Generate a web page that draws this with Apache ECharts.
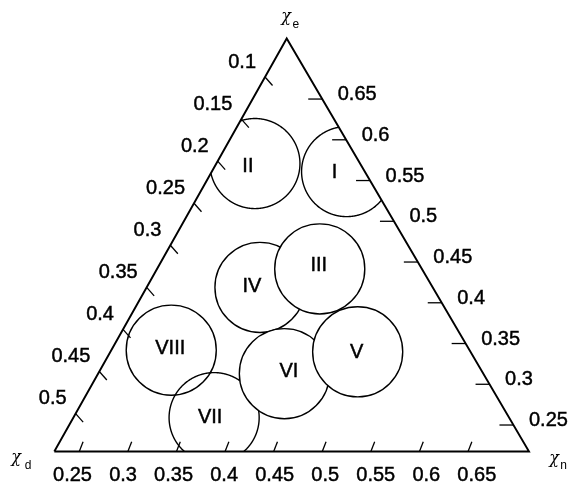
<!DOCTYPE html>
<html><head><meta charset="utf-8">
<script src="https://cdn.jsdelivr.net/npm/echarts@6/dist/echarts.min.js"></script>
<style>html,body{margin:0;padding:0;background:#fff}#c{width:569px;height:484px}</style>
</head><body><div id="c"></div>
<script>
// ---------------- data ----------------
// value of each ternary variable at the two ends of its axis (triangle vertices)
const eRange = [0.2175, 0.7243];   // χe : bottom edge -> top vertex
const dRange = [0.0542, 0.5451];   // χd : top vertex -> bottom-left vertex
const nRange = [0.2243, 0.7127];   // χn : bottom-left -> bottom-right vertex

const dTicks = [0.1, 0.15, 0.2, 0.25, 0.3, 0.35, 0.4, 0.45, 0.5];
const dTickLabels = ['0.1', '0.15', '0.2', '0.25', '0.3', '0.35', '0.4', '0.45', '0.5'];
const eTicks = [0.25, 0.3, 0.35, 0.4, 0.45, 0.5, 0.55, 0.6, 0.65];
const eTickLabels = ['0.25', '0.3', '0.35', '0.4', '0.45', '0.5', '0.55', '0.6', '0.65'];
const nTicks = [0.25, 0.3, 0.35, 0.4, 0.45, 0.5, 0.55, 0.6, 0.65];
const nTickLabels = ['0.25', '0.3', '0.35', '0.4', '0.45', '0.5', '0.55', '0.6', '0.65'];

const regionNames = ['I', 'II', 'III', 'IV', 'V', 'VI', 'VII', 'VIII'];
const regionE = [0.561, 0.571, 0.442, 0.419, 0.340, 0.313, 0.259, 0.342];
const regionD = [0.073, 0.163, 0.160, 0.233, 0.171, 0.260, 0.359, 0.363];
const regionN = [0.363, 0.264, 0.392, 0.341, 0.479, 0.416, 0.369, 0.286];
const regionRadius = 0.047;

// ---------------- styles / layout ----------------
const FONT = '"Liberation Sans", Arial, Helvetica, sans-serif';
const CHI_FONT = '"DejaVu Serif", "Liberation Serif", serif';
const TEXT_THICKEN = { stroke: '#000', lineWidth: 0.45 };
const APEX = [0.4896, 0.8700];            // top vertex in grid units (side = 1)
const regionLayer = [1, 1, 3, 2, 3, 2, 1, 1];
const regionFilled = [true, true, true, true, true, true, false, false];
const labelNudge = [[-12, 1], [-7, 3], [-1, -3], [-8, -1], [-1, 1], [4.5, -2], [-4, 0], [-1, -2]];

function toXY(e, d, n) {
  let fe = (e - eRange[0]) / (eRange[1] - eRange[0]);
  let fd = (d - dRange[0]) / (dRange[1] - dRange[0]);
  let fn = (n - nRange[0]) / (nRange[1] - nRange[0]);
  const s = fe + fd + fn; fe /= s; fd /= s; fn /= s;
  return [fe * APEX[0] + fn * 1, fe * APEX[1]];
}
const span = ((eRange[1] - eRange[0]) + (dRange[1] - dRange[0]) + (nRange[1] - nRange[0])) / 3;
const rData = regionRadius / span;

function cross(a, b, p) { return (b[0] - a[0]) * (p[1] - a[1]) - (b[1] - a[1]) * (p[0] - a[0]); }
function inTri(p, t) {
  const s1 = cross(t[0], t[1], p), s2 = cross(t[1], t[2], p), s3 = cross(t[2], t[0], p);
  return (s1 >= 0 && s2 >= 0 && s3 >= 0) || (s1 <= 0 && s2 <= 0 && s3 <= 0);
}

const circleData = regionNames.map((nm, i) => {
  const p = toXY(regionE[i], regionD[i], regionN[i]);
  return [p[0], p[1], i];
});

const circleSeries = {
  type: 'custom', coordinateSystem: 'cartesian2d', clip: false, silent: true, z: 2,
  data: circleData, encode: { x: 0, y: 1 },
  renderItem(params, api) {
    const i = api.value(2);
    const c = api.coord([api.value(0), api.value(1)]);
    const r = api.size([rData, 0])[0];
    const tri = [api.coord([0, 0]), api.coord([1, 0]), api.coord(APEX)];
    const N = 720, pts = [], ins = [];
    for (let k = 0; k < N; k++) {
      const a = 2 * Math.PI * k / N;
      const p = [c[0] + r * Math.cos(a), c[1] + r * Math.sin(a)];
      pts.push(p); ins.push(inTri(p, tri));
    }
    const zz = regionLayer[i] * 10;
    const fill = regionFilled[i] ? '#fff' : 'none';
    const children = [];
    const start = ins.indexOf(false);
    if (start < 0) {
      children.push({ type: 'circle', z2: zz, shape: { cx: c[0], cy: c[1], r: r }, style: { fill: fill, stroke: '#000', lineWidth: 1.4 } });
    } else {
      if (regionFilled[i]) {
        children.push({ type: 'polygon', z2: zz, shape: { points: pts.filter((p, k) => ins[k]) }, style: { fill: '#fff', stroke: null } });
      }
      let run = [];
      for (let j = 1; j <= N; j++) {
        const k = (start + j) % N;
        if (ins[k]) run.push(pts[k]);
        else { if (run.length > 1) children.push({ type: 'polyline', z2: zz + 1, shape: { points: run }, style: { fill: null, stroke: '#000', lineWidth: 1.4 } }); run = []; }
      }
      if (run.length > 1) children.push({ type: 'polyline', z2: zz + 1, shape: { points: run }, style: { fill: null, stroke: '#000', lineWidth: 1.4 } });
    }
    children.push({
      type: 'text', z2: zz + 2, x: c[0] + labelNudge[i][0], y: c[1] + labelNudge[i][1],
      style: Object.assign({ text: regionNames[i], fill: '#000', fontSize: 20, fontFamily: FONT,
        align: 'center', verticalAlign: 'middle', textAlign: 'center', textVerticalAlign: 'middle' }, TEXT_THICKEN)
    });
    return { type: 'group', children: children };
  }
};

function sideSeries(values, labels, frac2xy, dirPx, offPx, align, spread) {
  const pts = values.map((v, k) => { const xy = frac2xy(v); return [xy[0], xy[1], k]; });
  const mid = pts[Math.floor(pts.length / 2)];
  return {
    type: 'custom', coordinateSystem: 'cartesian2d', clip: false, silent: true, z: 4,
    data: pts, encode: { x: 0, y: 1 },
    renderItem(params, api) {
      const k = api.value(2);
      const p = api.coord([api.value(0), api.value(1)]);
      const m = api.coord([mid[0], mid[1]]);
      const lx = m[0] + (p[0] - m[0]) * spread + offPx[0];
      const ly = m[1] + (p[1] - m[1]) * spread + offPx[1];
      return {
        type: 'group', children: [
          { type: 'line', shape: { x1: p[0], y1: p[1], x2: p[0] + dirPx[0], y2: p[1] + dirPx[1] }, style: { stroke: '#000', lineWidth: 1.3 } },
          { type: 'text', x: lx, y: ly, style: Object.assign({ text: labels[k], fill: '#000', fontSize: 20, fontFamily: FONT,
              align: align, verticalAlign: 'middle', textAlign: align, textVerticalAlign: 'middle' }, TEXT_THICKEN) }
        ]
      };
    }
  };
}

// left side: χn at minimum, χd varies
const leftSeries = sideSeries(dTicks, dTickLabels, v => {
  const fd = (v - dRange[0]) / (dRange[1] - dRange[0]); const fe = 1 - fd;
  return [fe * APEX[0], fe * APEX[1]];
}, [7.5, 8.5], [-9, -15], 'right', 1);
// right side: χd at minimum, χe varies
const rightSeries = sideSeries(eTicks, eTickLabels, v => {
  const fe = (v - eRange[0]) / (eRange[1] - eRange[0]); const fn = 1 - fe;
  return [fe * APEX[0] + fn, fe * APEX[1]];
}, [-14, 0], [15.5, -4.5], 'left', 1);
// bottom side: χe at minimum, χn varies
const bottomSeries = sideSeries(nTicks, nTickLabels, v => {
  const fn = (v - nRange[0]) / (nRange[1] - nRange[0]);
  return [fn, 0];
}, [3.8, -9.7], [1, 23.5], 'center', 1.04);

const titleSubs = ['e', 'd', 'n'];
const titleChiOff = [[-0.7, -22], [-38.3, 6.5], [25, 7.5]];
const titleSubOff = [[9, -14], [-26.3, 14.5], [34.5, 14.5]];
const titleSeries = {
  type: 'custom', coordinateSystem: 'cartesian2d', clip: false, silent: true, z: 5,
  data: [[APEX[0], APEX[1], 0], [0, 0, 1], [1, 0, 2]], encode: { x: 0, y: 1 },
  renderItem(params, api) {
    const k = api.value(2);
    const p = api.coord([api.value(0), api.value(1)]);
    return {
      type: 'group', children: [
        { type: 'text', x: p[0] + titleChiOff[k][0], y: p[1] + titleChiOff[k][1],
          style: { text: 'χ', fill: '#000', fontSize: 16, fontStyle: 'italic', fontFamily: CHI_FONT, align: 'center', verticalAlign: 'middle', textAlign: 'center', textVerticalAlign: 'middle' } },
        { type: 'text', x: p[0] + titleSubOff[k][0], y: p[1] + titleSubOff[k][1],
          style: { text: titleSubs[k], fill: '#000', fontSize: 12, fontFamily: FONT, align: 'center', verticalAlign: 'middle', textAlign: 'center', textVerticalAlign: 'middle' } }
      ]
    };
  }
};

const edgeSeries = {
  type: 'line', clip: false, silent: true, z: 6, symbol: 'none', animation: false,
  data: [[0, 0], [1, 0], APEX, [0, 0]],
  lineStyle: { color: '#000', width: 1.9, join: 'miter' }
};

const chart = echarts.init(document.getElementById('c'), null, { renderer: 'canvas' });
chart.setOption({
  animation: false,
  backgroundColor: '#fff',
  grid: { left: 54.3, top: 38.5, width: 474.7, height: 413, containLabel: false },
  xAxis: { type: 'value', min: 0, max: 1, show: false },
  yAxis: { type: 'value', min: 0, max: APEX[1], show: false },
  series: [circleSeries, edgeSeries, leftSeries, rightSeries, bottomSeries, titleSeries]
});
</script>
</body></html>
